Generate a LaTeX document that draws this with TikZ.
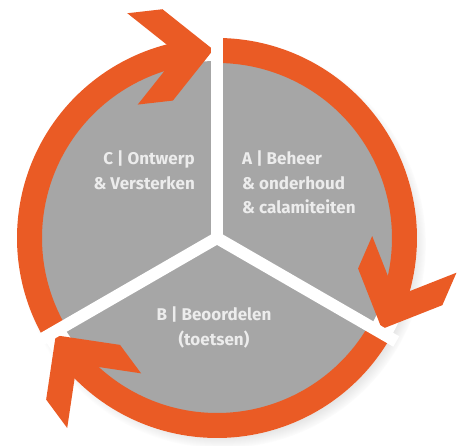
\documentclass[tikz,border=0pt]{standalone}
\usepackage{fontspec}
\setsansfont{Fira Sans}
\usetikzlibrary{shadows}
\definecolor{cycleorange}{RGB}{234,91,37}
\definecolor{cyclegray}{RGB}{166,166,166}
\definecolor{cycletext}{RGB}{236,236,236}
\begin{document}
\begin{tikzpicture}[x=1pt, y=1pt,
    band/.style={draw=cycleorange, line width=25pt, line cap=butt},
    head/.style={fill=cycleorange},
    divider/.style={draw=white, line width=12pt, line cap=butt},
    phase/.style={font=\sffamily\bfseries\fontsize{17}{24.5}\selectfont, text=cycletext, inner sep=0pt}]
    \useasboundingbox (0,0) rectangle (457,446);
    \coordinate (ctr) at (217,208);

    \path[fill=white, circular drop shadow={shadow xshift=5pt, shadow yshift=-6pt, shadow scale=1.02, opacity=0.5}] (ctr) circle[radius=200];
    \fill[cyclegray] (ctr) circle[radius=177];

    \foreach \s/\e in {90/-23.5, -30/-143.5, 210/96.5}{
        \draw[band] (ctr) ++(\s:187.5) arc[start angle=\s, end angle=\e, radius=187.5];
        \fill[head] (ctr) ++(\e:187.5) ++(\e-90:17.7) -- ++(\e+45:65) -- ++(\e+90:35.4)
            -- ++(\e-135:65) -- ++(\e+135:65) -- ++(\e-90:35.4) -- cycle;
    }
    \foreach \d in {90,-30,210}
        \draw[divider] (ctr) -- ++(\d:207);

    \node[phase, anchor=north east, align=right] (ontwerp) at (195,295) {C | Ontwerp\\\& Versterken};
    \node[phase, anchor=north west, align=left] (beheer) at (242,295) {A | Beheer\\\& onderhoud\\\& calamiteiten};
    \node[phase, anchor=north, align=center] (beoordelen) at (214,139) {B | Beoordelen\\(toetsen)};
\end{tikzpicture}
\end{document}
